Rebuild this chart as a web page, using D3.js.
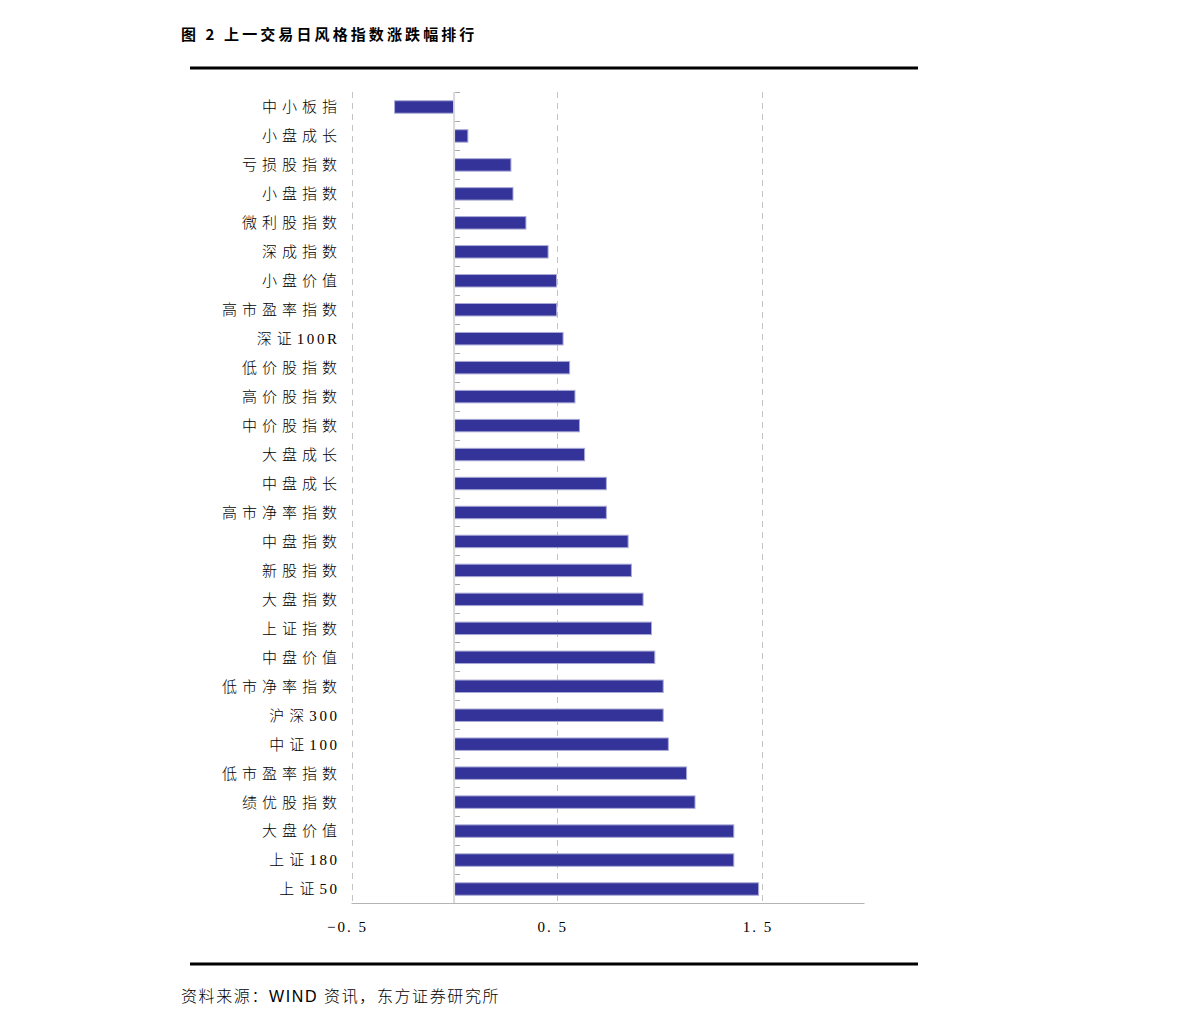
<!DOCTYPE html>
<html>
<head>
<meta charset="utf-8">
<script src="https://cdn.jsdelivr.net/npm/d3@7"></script>
<style>
  body { margin: 0; background: #fff; }
  svg { display: block; }
</style>
</head>
<body>
<div id="chart"></div>
<script>
// data
const categories = ["中小板指", "小盘成长", "亏损股指数", "小盘指数", "微利股指数", "深成指数", "小盘价值",
  "高市盈率指数", "深证100R", "低价股指数", "高价股指数", "中价股指数", "大盘成长", "中盘成长",
  "高市净率指数", "中盘指数", "新股指数", "大盘指数", "上证指数", "中盘价值", "低市净率指数",
  "沪深300", "中证100", "低市盈率指数", "绩优股指数", "大盘价值", "上证180", "上证50"]
const changes = [-0.29, 0.067, 0.277, 0.287, 0.35, 0.458, 0.499,
  0.50, 0.531, 0.563, 0.589, 0.611, 0.636, 0.742,
  0.742, 0.848, 0.864, 0.921, 0.962, 0.978, 1.019,
  1.019, 1.044, 1.133, 1.174, 1.363, 1.363, 1.484]
const tickValues = [-0.5, 0.5, 1.5]
const tickLabels = ["−0. 5", "0. 5", "1. 5"]

const title = "图 2  上一交易日风格指数涨跌幅排行"
const source = "资料来源：WIND 资讯，东方证券研究所"

function drawChart() {
  const width = 1191
  const height = 1026

  const svg = d3.select("#chart")
    .append("svg")
      .attr("width", width)
      .attr("height", height)

  // header + rules
  svg.append("text")
      .attr("x", 181)
      .attr("y", 40)
      .attr("font-family", "'Noto Sans CJK SC', 'Liberation Sans', sans-serif")
      .attr("font-weight", "bold")
      .attr("font-size", 15)
      .attr("letter-spacing", 3.1)
      .attr("fill", "#000")
      .text(title)

  svg.append("line")
      .attr("x1", 190).attr("x2", 918)
      .attr("y1", 68).attr("y2", 68)
      .attr("stroke", "#000")
      .attr("stroke-width", 3)

  svg.append("line")
      .attr("x1", 190).attr("x2", 918)
      .attr("y1", 964).attr("y2", 964)
      .attr("stroke", "#000")
      .attr("stroke-width", 3)

  svg.append("text")
      .attr("x", 181)
      .attr("y", 1002)
      .attr("font-family", "'Liberation Sans', 'Noto Sans CJK SC', sans-serif")
      .attr("font-weight", 300)
      .attr("font-size", 16)
      .attr("letter-spacing", 1.6)
      .attr("fill", "#000")
      .text(source)

  // scales
  const x = d3.scaleLinear()
      .domain([-0.5, 2.0])
      .range([351.5, 864.5])

  const y = d3.scaleBand()
      .domain(categories)
      .range([92.5, 903.5])
      .paddingInner(0.57)
      .paddingOuter(0.285)

  const step = y.step()
  const bandTop = 92

  // dashed grid lines
  svg.append("g")
    .selectAll("line")
    .data(tickValues)
    .join("line")
      .attr("x1", d => Math.round(x(d)) + 0.5)
      .attr("x2", d => Math.round(x(d)) + 0.5)
      .attr("y1", bandTop)
      .attr("y2", 903)
      .attr("stroke", "#c4c4c4")
      .attr("stroke-width", 1)
      .attr("stroke-dasharray", "6,5")

  // bottom axis line
  svg.append("line")
      .attr("x1", x(-0.5)).attr("x2", x(2.0))
      .attr("y1", 903.5).attr("y2", 903.5)
      .attr("stroke", "#b4b4b4")
      .attr("stroke-width", 1)

  // x tick labels
  svg.append("g")
    .selectAll("text")
    .data(tickValues)
    .join("text")
      .attr("x", d => x(d) - 4)
      .attr("y", 932)
      .attr("text-anchor", "middle")
      .attr("font-family", "'Liberation Serif', 'Noto Sans CJK SC', serif")
      .attr("font-size", 15)
      .attr("letter-spacing", 2)
      .attr("fill", "#000")
      .text((d, i) => tickLabels[i])

  // bars
  svg.append("g")
    .selectAll("rect")
    .data(changes)
    .join("rect")
      .attr("x", d => x(Math.min(0, d)))
      .attr("y", (d, i) => y(categories[i]))
      .attr("width", d => Math.abs(x(d) - x(0)))
      .attr("height", y.bandwidth())
      .attr("fill", "#333399")
      .attr("stroke", "#a9a9d6")
      .attr("stroke-width", 1)

  // zero line (category axis)
  svg.append("line")
      .attr("x1", x(0)).attr("x2", x(0))
      .attr("y1", bandTop).attr("y2", 903)
      .attr("stroke", "#d9d9d9")
      .attr("stroke-width", 2)

  // small ticks between categories
  svg.append("g")
    .selectAll("line")
    .data(d3.range(categories.length))
    .join("line")
      .attr("x1", x(0) + 1).attr("x2", x(0) + 6)
      .attr("y1", i => Math.round(bandTop + i * step) + 0.5)
      .attr("y2", i => Math.round(bandTop + i * step) + 0.5)
      .attr("stroke", "#aaaaaa")
      .attr("stroke-width", 1)

  // category labels: CJK chars spaced wider than digits, no trailing space
  const isLatin = c => /[0-9A-Za-z]/.test(c)
  svg.append("g")
    .selectAll("text")
    .data(categories)
    .join("text")
      .attr("x", 337)
      .attr("y", d => y(d) + y.bandwidth() / 2)
      .attr("dy", "0.36em")
      .attr("text-anchor", "end")
      .attr("font-family", "'Liberation Serif', 'Noto Sans CJK SC', serif")
      .attr("font-weight", 300)
      .attr("font-size", 15)
      .attr("fill", "#000")
    .selectAll("tspan")
    .data(d => Array.from(d).map((c, i, arr) => ({ c, last: i === arr.length - 1 })))
    .join("tspan")
      .attr("letter-spacing", d => d.last ? 0 : (isLatin(d.c) ? 2.6 : 5))
      .text(d => d.c)
}

drawChart()
</script>
</body>
</html>
